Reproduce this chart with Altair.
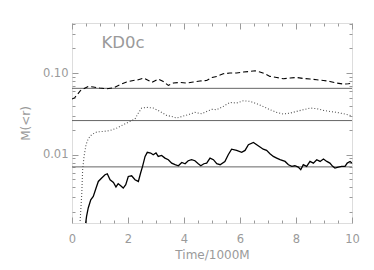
import altair as alt
import pandas as pd

# ---------------- data ----------------
DASH_T = [0.0, 0.1, 0.2, 0.3, 0.4, 0.58, 0.76, 1.0, 1.24, 1.48, 1.71, 1.95, 2.19, 2.37, 2.55,
          2.73, 2.85, 3.08, 3.26, 3.44, 3.62, 3.86, 4.1, 4.33, 4.57, 4.81, 5.0, 5.17, 5.4, 5.64,
          5.88, 6.12, 6.36, 6.54, 6.71, 6.89, 7.07, 7.31, 7.55, 7.79, 8.02, 8.26, 8.5, 8.74, 8.98,
          9.21, 9.45, 9.69, 9.87, 10.0]
DASH_V = [0.048, 0.050, 0.055, 0.061, 0.064, 0.0686, 0.0674, 0.0655, 0.0642, 0.066, 0.0719, 0.0776,
          0.0812, 0.0828, 0.0869, 0.0812, 0.0768, 0.0845, 0.0789, 0.0705, 0.0755, 0.0768, 0.0755,
          0.0776, 0.0798, 0.0812, 0.088, 0.091, 0.098, 0.100, 0.100, 0.1028, 0.1047, 0.1067, 0.1028,
          0.098, 0.091, 0.0884, 0.0852, 0.0869, 0.0884, 0.0859, 0.0845, 0.0828, 0.0812, 0.0789,
          0.0755, 0.0733, 0.074, 0.075]

DOT_T = [0.27, 0.31, 0.35, 0.38, 0.43, 0.5, 0.58, 0.7, 0.88, 1.12, 1.36, 1.6, 1.83, 2.07, 2.25,
         2.37, 2.49, 2.67, 2.9, 3.14, 3.38, 3.56, 3.74, 3.92, 4.15, 4.39, 4.63, 4.81, 5.0, 5.17,
         5.4, 5.64, 5.88, 6.12, 6.36, 6.6, 6.83, 7.07, 7.31, 7.55, 7.79, 8.02, 8.26, 8.5, 8.74,
         8.98, 9.21, 9.45, 9.69, 10.0]
DOT_V = [0.0012, 0.0020, 0.0034, 0.00655, 0.00953, 0.01325, 0.0157, 0.0176, 0.019, 0.0193, 0.0198,
         0.0212, 0.0233, 0.0256, 0.0274, 0.0324, 0.0373, 0.0380, 0.0373, 0.0339, 0.0303, 0.0294,
         0.0281, 0.0294, 0.0309, 0.033, 0.0318, 0.0339, 0.036, 0.0356, 0.039, 0.0436, 0.043,
         0.0458, 0.045, 0.0421, 0.039, 0.0356, 0.033, 0.0315, 0.0324, 0.0339, 0.0356, 0.0373,
         0.0366, 0.0349, 0.0339, 0.033, 0.0318, 0.030]

SOL_T = [0.47, 0.52, 0.58, 0.67, 0.76, 0.86, 0.94, 1.06, 1.18, 1.26, 1.36, 1.48, 1.57, 1.65, 1.74,
         1.83, 1.92, 2.01, 2.13, 2.25, 2.37, 2.45, 2.52, 2.61, 2.69, 2.81, 2.9, 3.0, 3.08, 3.2,
         3.32, 3.44, 3.56, 3.68, 3.8, 3.92, 4.04, 4.15, 4.27, 4.39, 4.51, 4.6, 4.71, 4.81, 4.93,
         5.05, 5.17, 5.29, 5.46, 5.58, 5.7, 5.88, 6.06, 6.18, 6.3, 6.48, 6.65, 6.83, 6.95, 7.07,
         7.19, 7.31, 7.43, 7.61, 7.73, 7.85, 7.96, 8.08, 8.17, 8.26, 8.38, 8.5, 8.62, 8.74, 8.86,
         8.98, 9.1, 9.21, 9.31, 9.39, 9.51, 9.63, 9.75, 9.83, 9.93, 10.0]
SOL_V = [0.0013, 0.00176, 0.00223, 0.00281, 0.00309, 0.00391, 0.00471, 0.00518, 0.00569, 0.00585,
         0.00494, 0.00458, 0.00403, 0.00442, 0.00418, 0.00391, 0.0043, 0.00542, 0.00553, 0.00494,
         0.00471, 0.00597, 0.0072, 0.00953, 0.0107, 0.0105, 0.0100, 0.0105, 0.00953, 0.0098,
         0.0091, 0.0087, 0.0079, 0.00755, 0.00733, 0.00805, 0.00776, 0.00845, 0.0087, 0.00845,
         0.00776, 0.00733, 0.00776, 0.0079, 0.0091, 0.0087, 0.00776, 0.00755, 0.00828, 0.0100,
         0.0117, 0.0113, 0.0107, 0.0113, 0.01325, 0.01416, 0.0129, 0.0117, 0.0113, 0.0103,
         0.00953, 0.0091, 0.0087, 0.00828, 0.00755, 0.0072, 0.00733, 0.00706, 0.00655, 0.00755,
         0.0072, 0.00828, 0.0079, 0.0087, 0.00828, 0.00886, 0.00828, 0.0079, 0.0072, 0.00687,
         0.00706, 0.0072, 0.0072, 0.0079, 0.00828, 0.0079]

REF_V = [0.065, 0.0262, 0.0071]

LABEL = ["KD0c"]
LABEL_T = [1.05]
LABEL_V = [0.235]

X_DOMAIN = [0, 10]
Y_DOMAIN = [0.00146, 0.41]
X_MAJOR = [0, 2, 4, 6, 8, 10]
X_MINOR = [0.5, 1, 1.5, 2.5, 3, 3.5, 4.5, 5, 5.5, 6.5, 7, 7.5, 8.5, 9, 9.5]
Y_MAJOR = [0.01, 0.1]
Y_MINOR = [0.002, 0.003, 0.004, 0.005, 0.006, 0.007, 0.008, 0.009,
           0.02, 0.03, 0.04, 0.05, 0.06, 0.07, 0.08, 0.09, 0.2, 0.3, 0.4]

assert len(DASH_T) == len(DASH_V), (len(DASH_T), len(DASH_V))
assert len(DOT_T) == len(DOT_V), (len(DOT_T), len(DOT_V))
assert len(SOL_T) == len(SOL_V), (len(SOL_T), len(SOL_V))

dash_df = pd.DataFrame({"t": DASH_T, "v": DASH_V})
dot_df = pd.DataFrame({"t": DOT_T, "v": DOT_V})
sol_df = pd.DataFrame({"t": SOL_T, "v": SOL_V})
ref_df = pd.DataFrame({"r": REF_V, "t0": min(DASH_T), "t1": max(DASH_T)})
lab_df = pd.DataFrame({"label": LABEL, "t": LABEL_T, "v": LABEL_V})

# ---------------- styling ----------------
FONT = "DejaVu Sans"
AXC = "#9a9a9a"
TXT = "#9a9a9a"

xs = alt.Scale(domain=X_DOMAIN, nice=False, zero=False)
ys = alt.Scale(type="log", domain=Y_DOMAIN, nice=False)

BASE = dict(domain=False, grid=False, tickColor=AXC, tickWidth=1,
            labelColor=TXT, titleColor=TXT, labelFont=FONT, titleFont=FONT,
            labelFontSize=11.5, titleFontSize=12, titleFontWeight="normal")


def tick_axis(orient, values, size):
    return alt.Axis(orient=orient, values=values, tickSize=size, offset=-size,
                    labels=False, title=None, **BASE)


x_main = alt.Axis(orient="bottom", values=X_MAJOR, tickSize=6, offset=-6, labelPadding=10,
                  labelFlush=False, labelOverlap=False, format="d",
                  title="Time/1000M", titlePadding=5, **BASE)
y_main = alt.Axis(orient="left", values=Y_MAJOR, tickSize=6, offset=-6, labelPadding=4,
                  labelOverlap=False, format=".2f",
                  title="M(<r)", titlePadding=10, **BASE)

dashed = alt.Chart(dash_df).mark_line(color="black", strokeWidth=1.1, strokeDash=[5, 3], clip=True).encode(
    x=alt.X("t:Q", scale=xs, axis=x_main),
    y=alt.Y("v:Q", scale=ys, axis=y_main),
)
dotted = alt.Chart(dot_df).mark_line(color="#555555", strokeWidth=1.1, strokeDash=[1, 2], clip=True).encode(
    x=alt.X("t:Q", scale=xs, axis=tick_axis("bottom", X_MINOR, 3)),
    y=alt.Y("v:Q", scale=ys, axis=tick_axis("left", Y_MINOR, 3)),
)
solid = alt.Chart(sol_df).mark_line(color="black", strokeWidth=1.3, clip=True).encode(
    x=alt.X("t:Q", scale=xs, axis=tick_axis("top", X_MAJOR, 6)),
    y=alt.Y("v:Q", scale=ys, axis=tick_axis("right", Y_MAJOR, 6)),
)
refs = alt.Chart(ref_df).mark_rule(color="#666666", strokeWidth=1).encode(
    x=alt.X("t0:Q", scale=xs, axis=tick_axis("top", X_MINOR, 3)),
    x2="t1:Q",
    y=alt.Y("r:Q", scale=ys, axis=tick_axis("right", Y_MINOR, 3)),
)
label = alt.Chart(lab_df).mark_text(align="left", baseline="middle", font=FONT, fontSize=16.5,
                                    color=TXT).encode(
    x=alt.X("t:Q", scale=xs, axis=None),
    y=alt.Y("v:Q", scale=ys, axis=None),
    text="label:N",
)

chart = alt.layer(refs, dotted, dashed, solid, label).resolve_axis(
    x="independent", y="independent"
).properties(
    width=280, height=200,
    autosize=alt.AutoSizeParams(type="none"),
    padding={"left": 64, "top": 15, "right": 14, "bottom": 39},
).configure_view(stroke=AXC, strokeWidth=1).configure(background="white")

chart.save("out.html", embed_options={"renderer": "svg", "actions": False})
